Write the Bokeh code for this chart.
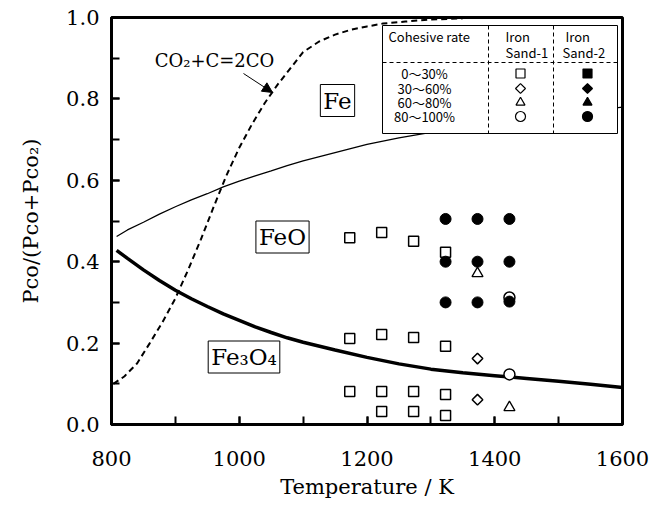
from bokeh.plotting import figure
from bokeh.embed import file_html
from bokeh.resources import INLINE
from bokeh.models import (Label, Arrow, NormalHead, SingleIntervalTicker,
                          NumeralTickFormatter, Range1d)
import numpy as np

# ---------------- data ----------------
# Boudouard curve CO2 + C = 2CO (dashed)
boud_T = [803, 820, 840, 860, 880, 900, 920, 940, 960, 980, 1000, 1020, 1040, 1060, 1080, 1100,
          1125, 1150, 1175, 1200, 1225, 1260, 1300, 1350]
boud_v = [0.10, 0.118, 0.15, 0.20, 0.252, 0.31, 0.38, 0.455, 0.535, 0.612, 0.68, 0.738, 0.79, 0.835,
          0.875, 0.915, 0.941, 0.958, 0.97, 0.978, 0.985, 0.99, 0.995, 0.998]
# Fe / FeO boundary (thin)
fe_T = [808, 825, 850, 875, 900, 925, 950, 975, 1000, 1025, 1050, 1075, 1100, 1150, 1200, 1250,
        1300, 1400, 1500, 1600]
fe_v = [0.462, 0.478, 0.497, 0.517, 0.535, 0.552, 0.567, 0.584, 0.598, 0.611, 0.623, 0.636, 0.648,
        0.668, 0.688, 0.704, 0.718, 0.742, 0.762, 0.78]
# FeO / Fe3O4 boundary (thick)
feo_T = [808, 825, 850, 875, 900, 925, 950, 975, 1000, 1025, 1050, 1075, 1100, 1150, 1200, 1250,
         1300, 1350, 1400, 1450, 1500, 1550, 1600]
feo_v = [0.428, 0.408, 0.38, 0.354, 0.33, 0.309, 0.29, 0.272, 0.256, 0.24, 0.226, 0.213, 0.202,
         0.183, 0.165, 0.149, 0.136, 0.127, 0.12, 0.113, 0.106, 0.099, 0.091]

# Iron Sand-1 (open markers)
s1_sq_T = [1173, 1173, 1173, 1223, 1223, 1223, 1223, 1273, 1273, 1273, 1273, 1323, 1323, 1323, 1323]
s1_sq_v = [0.459, 0.211, 0.081, 0.472, 0.221, 0.081, 0.032, 0.45, 0.214, 0.081, 0.032, 0.423, 0.192, 0.074, 0.022]
s1_di_T = [1373, 1373]
s1_di_v = [0.162, 0.061]
s1_tr_T = [1373, 1423]
s1_tr_v = [0.371, 0.042]
s1_ci_T = [1423, 1423]
s1_ci_v = [0.312, 0.123]
# Iron Sand-2 (filled circles)
s2_ci_T = [1323, 1323, 1323, 1373, 1373, 1373, 1423, 1423, 1423]
s2_ci_v = [0.505, 0.40, 0.30, 0.505, 0.40, 0.30, 0.505, 0.40, 0.302]

legend_rows = ["0\uff5e30%", "30\uff5e60%", "60\uff5e80%", "80\uff5e100%"]
legend_markers = ["square", "diamond", "triangle", "circle"]

# ---------------- layout helpers (pixel -> data) ----------------
FL, FR, FT, FB = 111, 622, 17, 424
def dx(px):
    return 800 + (px - FL) * 800.0 / (FR - FL)
def dy(py):
    return (FB - py) / float(FB - FT)

SERIF = "DejaVu Serif"
SANS = "Noto Sans CJK JP"

p = figure(width=663, height=505, output_backend="svg", toolbar_location=None,
           x_range=Range1d(800, 1600), y_range=Range1d(0, 1.0),
           min_border_left=FL, min_border_right=663 - FR,
           min_border_top=FT, min_border_bottom=505 - FB)
p.xgrid.visible = False
p.ygrid.visible = False
p.outline_line_color = "black"
p.outline_line_width = 3
p.background_fill_color = "white"
p.border_fill_color = "white"

p.xaxis.ticker = SingleIntervalTicker(interval=200, num_minor_ticks=2)
p.yaxis.ticker = SingleIntervalTicker(interval=0.2, num_minor_ticks=2)
p.yaxis.formatter = NumeralTickFormatter(format="0.0")
for ax in (p.xaxis[0], p.yaxis[0]):
    ax.axis_line_width = 3
    ax.axis_line_color = "black"
    ax.major_tick_in = 8
    ax.major_tick_out = 0
    ax.minor_tick_in = 8
    ax.minor_tick_out = 0
    ax.major_tick_line_width = 2
    ax.minor_tick_line_width = 2
    ax.major_label_text_font = SERIF
    ax.major_label_text_font_size = "21px"
    ax.major_label_text_color = "black"
    ax.axis_label_text_font = SERIF
    ax.axis_label_text_font_size = "21px"
    ax.axis_label_text_font_style = "normal"
    ax.axis_label_text_color = "black"
p.xaxis.axis_label = "Temperature / K"
p.yaxis.axis_label = "Pco/(Pco+Pco\u2082)"
p.xaxis.major_label_standoff = 26
p.yaxis.major_label_standoff = 12
p.xaxis.axis_label_standoff = 6
p.yaxis.axis_label_standoff = 20

# curves
p.line(boud_T, boud_v, line_color="black", line_width=2, line_dash="6 4")
p.line(fe_T, fe_v, line_color="black", line_width=1.3)
p.line(feo_T, feo_v, line_color="black", line_width=3.5)

# markers
p.scatter(s1_sq_T, s1_sq_v, marker="square", size=10, fill_color="white", line_color="black", line_width=1.5)
p.scatter(s1_di_T, s1_di_v, marker="square", angle=np.pi / 4, size=7.5, fill_color="white", line_color="black", line_width=1.5)
p.scatter(s1_tr_T, s1_tr_v, marker="triangle", size=11, fill_color="white", line_color="black", line_width=1.3)
p.scatter(s1_ci_T, s1_ci_v, marker="circle", size=11, fill_color="white", line_color="black", line_width=1.5)
p.scatter(s2_ci_T, s2_ci_v, marker="circle", size=11, fill_color="black", line_color="black")

# region labels
for txt, px, py in [("Fe", 337, 100), ("FeO", 282, 236.5), ("Fe\u2083O\u2084", 243.5, 356.5)]:
    p.add_layout(Label(x=dx(px), y=dy(py), text=txt, text_font=SERIF, text_font_size="23px",
                       text_align="center", text_baseline="middle", text_color="black",
                       border_line_color="black", border_line_width=1,
                       background_fill_color="white", padding=3))

p.add_layout(Label(x=dx(214), y=dy(60), text="CO\u2082+C=2CO", text_font=SERIF, text_font_size="18px",
                   text_align="center", text_baseline="middle", text_color="black"))
p.add_layout(Arrow(x_start=dx(243), y_start=dy(73), x_end=dx(272), y_end=dy(92),
                   line_width=1, line_color="black",
                   end=NormalHead(size=10, fill_color="black", line_color="black")))

# legend table
LL, LT, LR, LB = 382, 25, 617, 133
p.quad(left=[dx(LL)], right=[dx(LR)], top=[dy(LT)], bottom=[dy(LB)],
       fill_color="white", line_color="black", line_width=1)
p.line([dx(LL), dx(LR)], [dy(62), dy(62)], line_color="black", line_width=1, line_dash="4 3")
for vx in (488, 553):
    p.line([dx(vx), dx(vx)], [dy(LT), dy(LB)], line_color="black", line_width=1, line_dash="4 3")

def ltext(t, px, py, align="left"):
    p.add_layout(Label(x=dx(px), y=dy(py), text=t, text_font=SANS, text_font_size="13px",
                       text_align=align, text_baseline="middle", text_color="black"))

ltext("Cohesive rate", 388, 36)
ltext("Iron", 505, 36)
ltext("Sand-1", 505, 52)
ltext("Iron", 565, 36)
ltext("Sand-2", 562, 52)
row_y = [73, 88, 102, 116]
for t, ry in zip(legend_rows, row_y):
    ltext(t, 424, ry, align="center")
for m, ry in zip(legend_markers, row_y):
    ang = np.pi / 4 if m == "diamond" else 0
    mk = "square" if m == "diamond" else m
    sz = {"square": 9, "diamond": 7, "triangle": 9, "circle": 10}[m]
    p.scatter([dx(520)], [dy(ry)], marker=mk, angle=ang, size=sz, fill_color="white",
              line_color="black", line_width=1.2)
    p.scatter([dx(587)], [dy(ry)], marker=mk, angle=ang, size=sz, fill_color="black",
              line_color="black", line_width=1.2)

open("out.html", "w").write(file_html(p, INLINE))
